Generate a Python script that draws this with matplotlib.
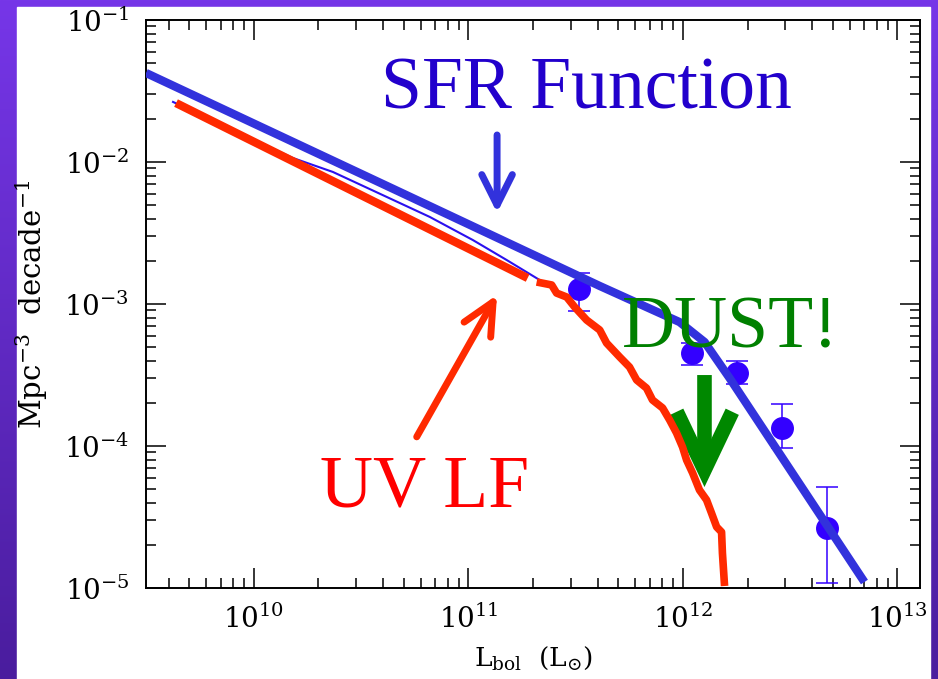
import matplotlib.pyplot as plt
import numpy as np
from matplotlib.ticker import LogLocator, NullFormatter

plt.rcParams['font.family'] = ['DejaVu Serif']
plt.rcParams['mathtext.fontset'] = 'dejavuserif'

# SFR function (dust corrected): log10 L_bol [Lsun], log10 phi [Mpc^-3 dex^-1]
sfr_logL = [9.497, 10.680, 11.612, 11.984, 12.101, 12.217, 12.846]
sfr_logphi = [-1.373, -2.211, -2.873, -3.127, -3.268, -3.521, -4.958]

# UV LF: faint-end power law and the measured bright end
uv_faint_logL = [9.637, 11.276]
uv_faint_logphi = [-1.585, -2.817]
uv_bright_logL = [11.318, 11.388, 11.411, 11.458, 11.495, 11.551, 11.612, 11.644,
                  11.705, 11.751, 11.784, 11.830, 11.858, 11.905, 11.938, 11.970,
                  11.998, 12.017, 12.045, 12.077, 12.110, 12.133, 12.157, 12.180,
                  12.184, 12.194]
uv_bright_logphi = [-2.845, -2.866, -2.923, -2.951, -3.021, -3.113, -3.183, -3.275,
                    -3.373, -3.444, -3.535, -3.592, -3.676, -3.732, -3.817, -3.908,
                    -4.007, -4.099, -4.190, -4.310, -4.380, -4.472, -4.570, -4.606,
                    -4.754, -4.986]

# thin model curve along the UV LF
model_logL = [9.623, 10.182, 10.368, 10.619, 10.820, 11.020, 11.178, 11.332]
model_logphi = [-1.577, -1.972, -2.070, -2.246, -2.387, -2.549, -2.690, -2.831]

# bolometric LF measurements with error range
pts_logL = [11.514, 12.040, 12.250, 12.464, 12.673]
pts_logphi = [-2.894, -3.345, -3.486, -3.873, -4.577]
pts_hi = [-2.782, -3.275, -3.401, -3.704, -4.289]
pts_lo = [-3.049, -3.430, -3.563, -4.014, -4.965]

W, H = 938, 679
fig = plt.figure(figsize=(W / 100, H / 100), dpi=100)

# purple slide background with a white panel on top
bg = fig.add_axes([0, 0, 1, 1], zorder=-10)
grad = np.linspace(0, 1, 256)[:, None]
top_c = np.array([0x76, 0x36, 0xe8]) / 255
bot_c = np.array([0x4a, 0x1d, 0x9e]) / 255
img = top_c[None, None, :] * (1 - grad[..., None]) + bot_c[None, None, :] * grad[..., None]
bg.imshow(np.repeat(img, 2, axis=1), aspect='auto', extent=[0, 1, 0, 1])
bg.add_patch(plt.Rectangle((17 / W, 0), (930 - 17) / W, 1 - 7 / H, color='white'))
bg.set_xlim(0, 1)
bg.set_ylim(0, 1)
bg.axis('off')

ax = fig.add_axes([146 / W, 1 - 588 / H, 774 / W, 568 / H])
ax.set_xscale('log')
ax.set_yscale('log')
ax.set_xlim(10 ** 9.497, 10 ** 13.105)
ax.set_ylim(1e-5, 1e-1)


def p(a):
    return 10 ** np.asarray(a)


blue = '#3232dc'
red = '#ff2a00'
green = '#008800'

ax.plot(p(model_logL), p(model_logphi), color='#2a10ee', lw=1.5, zorder=2)
ax.plot(p(uv_faint_logL), p(uv_faint_logphi), color=red, lw=6, solid_capstyle='butt', zorder=4)
ax.plot(p(uv_bright_logL), p(uv_bright_logphi), color=red, lw=5.5, solid_capstyle='butt',
        solid_joinstyle='round', zorder=4)

yerr = [p(pts_logphi) - p(pts_lo), p(pts_hi) - p(pts_logphi)]
ax.errorbar(p(pts_logL), p(pts_logphi), yerr=yerr, fmt='o', color='#3300ff', ms=15.5,
            elinewidth=1.1, capsize=8, capthick=1.1, zorder=3)
ax.plot(p(sfr_logL), p(sfr_logphi), color=blue, lw=6, solid_capstyle='butt', zorder=5)

# labels and pointers
ax.text(3.91e10, 2.40e-2, 'SFR Function', color='#2200cc', fontsize=53,
        family='Liberation Serif', va='baseline', ha='left', zorder=6)
ax.text(2.03e10, 3.72e-5, 'UV LF', color='#ff0000', fontsize=53,
        family='Liberation Serif', va='baseline', ha='left', zorder=6)
ax.text(5.18e11, 4.90e-4, 'DUST!', color='#008000', fontsize=53,
        family='Liberation Serif', va='baseline', ha='left', zorder=6)

ax.annotate('', xy=(1.36e11, 4.38e-3), xytext=(1.36e11, 1.55e-2),
            arrowprops=dict(arrowstyle='->,head_length=2.2,head_width=1.1', mutation_scale=10,
                            color=blue, lw=5, capstyle='round', joinstyle='round',
                            shrinkA=0, shrinkB=0), zorder=6)
ax.annotate('', xy=(1.36e11, 1.16e-3), xytext=(5.74e10, 1.16e-4),
            arrowprops=dict(arrowstyle='->,head_length=2.3,head_width=1.1', mutation_scale=10,
                            color=red, lw=5, capstyle='round', joinstyle='round',
                            shrinkA=0, shrinkB=0), zorder=6)
ax.annotate('', xy=(1.26e12, 5.14e-5), xytext=(1.26e12, 3.16e-4),
            arrowprops=dict(arrowstyle='->,head_length=4.2,head_width=2.0', mutation_scale=10,
                            color=green, lw=10.5, capstyle='butt', joinstyle='miter',
                            shrinkA=0, shrinkB=0), zorder=3.5)

ax.xaxis.set_major_locator(LogLocator(base=10, numticks=10))
ax.xaxis.set_minor_locator(LogLocator(base=10, subs=np.arange(2, 10), numticks=20))
ax.yaxis.set_major_locator(LogLocator(base=10, numticks=10))
ax.yaxis.set_minor_locator(LogLocator(base=10, subs=np.arange(2, 10), numticks=20))
ax.xaxis.set_minor_formatter(NullFormatter())
ax.yaxis.set_minor_formatter(NullFormatter())
ax.tick_params(which='both', direction='in', top=True, right=True, width=1.1, color='black')
ax.tick_params(which='major', length=14.5, labelsize=20, pad=12)
ax.tick_params(which='minor', length=7.2)
for s in ax.spines.values():
    s.set_linewidth(1.4)

ax.set_xlabel(r'L$_{\rm bol}$  (L$_{\odot}$)', fontsize=19, labelpad=8)
ax.set_ylabel(r'Mpc$^{-3}$  decade$^{-1}$', fontsize=21, labelpad=10)

fig.savefig('out.png', dpi=100)
